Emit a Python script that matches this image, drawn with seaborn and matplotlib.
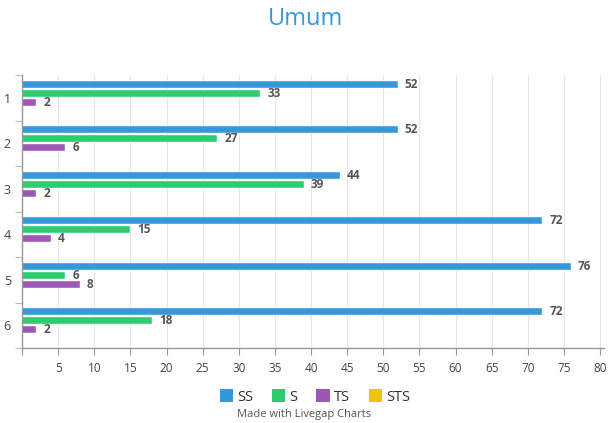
import numpy as np
import pandas as pd
import matplotlib
matplotlib.use("Agg")
import matplotlib.pyplot as plt
import seaborn as sns
from matplotlib.patches import Patch
from matplotlib.ticker import MultipleLocator, FixedLocator

categories = ["1", "2", "3", "4", "5", "6"]
series = ["SS", "S", "TS", "STS"]
ss = [52, 52, 44, 72, 76, 72]
s = [33, 27, 39, 15, 6, 18]
ts = [2, 6, 2, 4, 8, 2]
sts = [0, 0, 0, 0, 0, 0]
colors = ["#3498db", "#2ecc71", "#9b59b6", "#f1c40f"]

rows = []
for name, vals in zip(series, [ss, s, ts, sts]):
    for c, v in zip(categories, vals):
        rows.append({"cat": c, "series": name, "value": v})
df = pd.DataFrame(rows)

sns.set_theme(style="white")
plt.rcParams["font.family"] = ["Open Sans", "DejaVu Sans"]

fig = plt.figure(figsize=(6.08, 4.23), dpi=100)
ax = fig.add_axes([22/608, 1-348/423, 582/608, 273/423])

sns.barplot(data=df, y="cat", x="value", hue="series", order=categories,
            hue_order=series, palette=colors, orient="h", width=0.8, gap=0.25,
            ax=ax, legend=False, saturation=1, errorbar=None)

for cont, vals in zip(ax.containers, [ss, s, ts, sts]):
    for p in cont.patches:
        p.set_edgecolor("white")
        p.set_linewidth(0.3)
    labels = [str(v) if v != 0 else "" for v in vals]
    ax.bar_label(cont, labels=labels, padding=5, fontsize=8.5,
                 fontweight="bold", color="#555555")

ax.set_xlim(0, 80.55)
ax.set_ylim(5.5, -0.5)
ax.set_xticks(np.arange(0, 81, 5))
ax.set_xticklabels([""] + [str(v) for v in range(5, 81, 5)])
ax.yaxis.set_minor_locator(FixedLocator(np.arange(-0.5, 6, 1)))
ax.set_xlabel("")
ax.set_ylabel("")

ax.grid(axis="x", color="#e6e6e6", linewidth=0.8)
ax.set_axisbelow(True)
for side in ["top", "right"]:
    ax.spines[side].set_visible(False)
ax.spines["left"].set_color("#999999")
ax.spines["bottom"].set_color("#999999")
ax.spines["left"].set_linewidth(1)
ax.spines["bottom"].set_linewidth(1)

ax.tick_params(axis="x", which="major", bottom=True, length=5, width=0.8,
               color="#999999", labelsize=8.5, labelcolor="#444444", pad=5)
ax.tick_params(axis="y", which="major", left=False, length=0, labelsize=9,
               labelcolor="#444444", pad=8)
ax.tick_params(axis="y", which="minor", left=True, length=5, width=0.8,
               color="#bbbbbb")

fig.text(0.503, 1-19/423, "Umum", ha="center", va="center", fontsize=17,
         color="#3498db")

handles = [Patch(facecolor=c, edgecolor="none") for c in colors]
fig.legend(handles, series, loc="center", bbox_to_anchor=(0.518, 1-397/423),
           ncol=4, frameon=False, fontsize=10.5, handlelength=0.9,
           handleheight=0.9, handletextpad=0.3, columnspacing=1.3,
           labelcolor="#333333")
fig.text(0.5, 1-414/423, "Made with Livegap Charts", ha="center",
         va="center", fontsize=8, color="#555555")

fig.savefig("out.png", dpi=100)
